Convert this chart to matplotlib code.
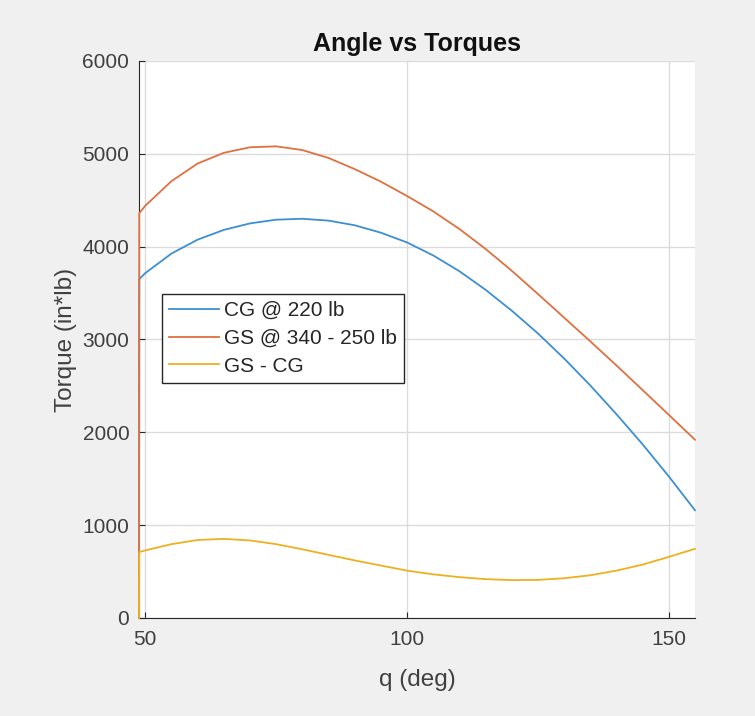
import numpy as np
import matplotlib
matplotlib.use('Agg')
import matplotlib.pyplot as plt

plt.rcParams['font.family'] = ['Liberation Sans', 'DejaVu Sans']

# angle q in degrees (first point drops to zero, as in the source)
q = [48.8, 48.85, 50, 55, 60, 65, 70, 75, 80, 85, 90, 95, 100,
     105, 110, 115, 120, 125, 130, 135, 140, 145, 150, 155]
cg_220 = [0, 3650, 3715, 3925, 4075, 4180, 4250, 4290, 4300, 4280, 4230, 4150, 4045,
          3905, 3735, 3535, 3310, 3065, 2795, 2505, 2195, 1870, 1525, 1160]
gs_340 = [0, 4360, 4440, 4705, 4895, 5010, 5070, 5080, 5040, 4955, 4835, 4700, 4545,
          4380, 4190, 3975, 3740, 3490, 3235, 2980, 2720, 2455, 2188, 1920]
gs_cg = [0, 710, 728, 795, 840, 852, 835, 795, 740, 680, 620, 565, 510,
         470, 440, 418, 408, 410, 428, 460, 510, 575, 658, 745]

labels = ['CG @ 220 lb', 'GS @ 340 - 250 lb', 'GS - CG']
colors = ['#3D8FD1', '#E0703F', '#EDB120']

fig = plt.figure(figsize=(7.55, 7.16), dpi=100, facecolor='#F0F0F0')
ax = fig.add_axes([0.1841, 0.1369, 0.7364, 0.778])

for ys, lab, c in zip([cg_220, gs_340, gs_cg], labels, colors):
    ax.plot(q, ys, color=c, lw=1.3, label=lab, clip_on=False, zorder=3)

ax.set_xlim(48.8, 155)
ax.set_ylim(0, 6000)
ax.set_xticks([50, 100, 150])
ax.set_yticks(np.arange(0, 6001, 1000))
ax.grid(True, color='#DCDCDC', lw=1)
ax.set_axisbelow(True)

for s in ['top', 'right']:
    ax.spines[s].set_visible(False)
for s in ['left', 'bottom']:
    ax.spines[s].set_color('#262626')
ax.tick_params(direction='in', length=4, colors='#262626', labelsize=15)
ax.tick_params(axis='y', pad=7)
ax.tick_params(axis='x', pad=9)
for t in ax.get_xticklabels() + ax.get_yticklabels():
    t.set_color('#404040')

ax.set_title('Angle vs Torques', fontsize=18, fontweight='bold', color='#111111', pad=7)
ax.set_xlabel('q (deg)', fontsize=17.5, color='#404040', labelpad=14)
ax.set_ylabel('Torque (in*lb)', fontsize=17.5, color='#404040', labelpad=4)

leg = ax.legend(loc='upper left', bbox_to_anchor=(0.041, 0.582), borderaxespad=0,
                fontsize=15, handlelength=2.4, handletextpad=0.25, borderpad=0.35,
                fancybox=False, framealpha=1, edgecolor='#262626', labelspacing=0.42)
leg.get_frame().set_linewidth(1)
for t in leg.get_texts():
    t.set_color('#262626')

fig.savefig('out.png', dpi=100, facecolor=fig.get_facecolor())
